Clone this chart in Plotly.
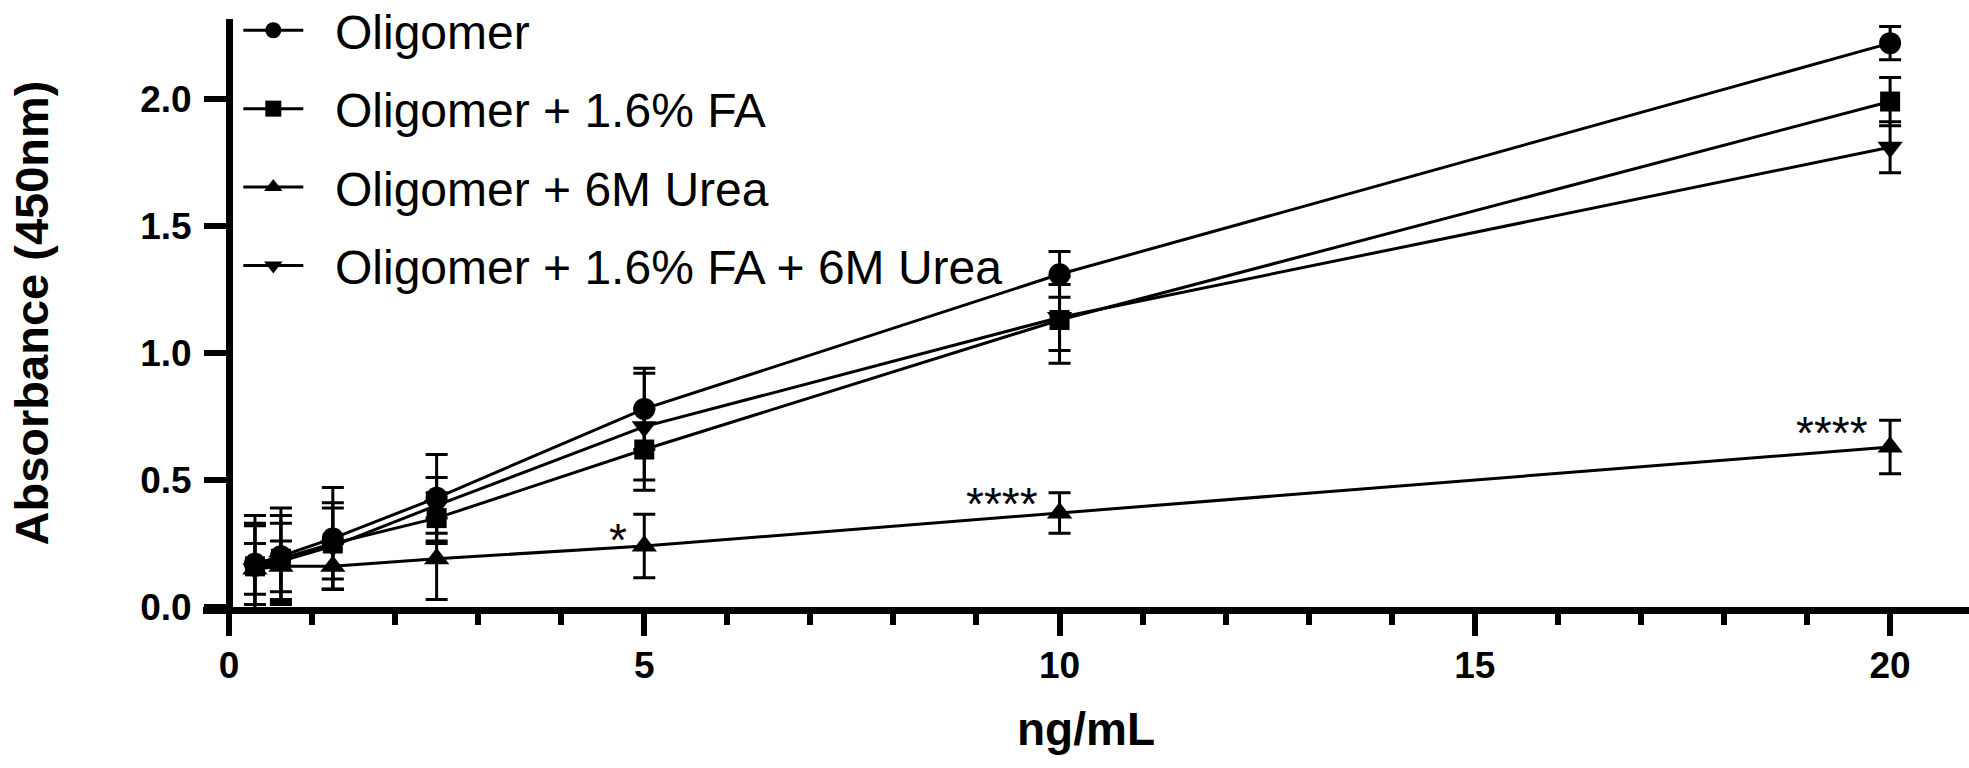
import plotly.graph_objects as go

# ---- data ----
conc = [0.3125, 0.625, 1.25, 2.5, 5, 10, 20]

olig = [0.17, 0.20, 0.27, 0.43, 0.78, 1.31, 2.22]
olig_err = [0.16, 0.19, 0.20, 0.17, 0.16, 0.09, 0.065]

olig_fa = [0.16, 0.19, 0.25, 0.35, 0.62, 1.13, 1.99]
olig_fa_err = [0.20, 0.17, 0.14, 0.10, 0.16, 0.17, 0.095]

olig_urea = [0.15, 0.16, 0.16, 0.19, 0.24, 0.37, 0.63]
olig_urea_err = [0.10, 0.10, 0.09, 0.16, 0.125, 0.08, 0.105]

olig_fa_urea = [0.15, 0.18, 0.24, 0.40, 0.71, 1.14, 1.81]
olig_fa_urea_err = [0.17, 0.15, 0.17, 0.11, 0.21, 0.13, 0.10]

names = ["Oligomer", "Oligomer + 1.6% FA", "Oligomer + 6M Urea",
         "Oligomer + 1.6% FA + 6M Urea"]
symbols = ["circle", "square", "triangle-up", "triangle-down"]
marker_sizes = [22, 20, 22, 22]

sig_x = [5, 10, 20]
sig_y = [0.30, 0.44, 0.72]
sig_text = ["*", "****", "****"]

x_ticks = [0, 5, 10, 15, 20]
y_ticks = [0.0, 0.5, 1.0, 1.5, 2.0]

# ---- figure ----
FONT = "Liberation Sans, Arial, Helvetica, sans-serif"
LEGEND_PAD = "\u00a0\u00a0"   # gap between legend symbol and label

fig = go.Figure()
for name, ys, es, sym, ms in zip(
        names,
        [olig, olig_fa, olig_urea, olig_fa_urea],
        [olig_err, olig_fa_err, olig_urea_err, olig_fa_urea_err],
        symbols, marker_sizes):
    fig.add_trace(go.Scatter(
        x=conc, y=ys, name=LEGEND_PAD + name, mode="lines+markers",
        legendgroup=name,
        line=dict(color="black", width=3),
        marker=dict(symbol=sym, size=ms, color="black"),
        error_y=dict(type="data", array=es, visible=True, color="black",
                     thickness=3, width=11),
    ))

for sx, sy, st in zip(sig_x, sig_y, sig_text):
    fig.add_annotation(x=sx, y=sy, text=st, showarrow=False,
                       xanchor="right", yanchor="middle",
                       xshift=-15 if len(st) == 1 else -20, yshift=-9,
                       font=dict(family=FONT, size=46, color="black"))

fig.update_layout(
    width=1969, height=768,
    margin=dict(l=203, r=0, t=19, b=161, autoexpand=False),
    paper_bgcolor="white", plot_bgcolor="white",
    font=dict(family=FONT, color="black"),
    showlegend=True,
    legend=dict(x=0.02, y=1.045, xanchor="left", yanchor="top",
                font=dict(family=FONT, size=48, color="black"),
                tracegroupgap=13, traceorder="grouped",
                bgcolor="rgba(0,0,0,0)", itemwidth=60),
    xaxis=dict(
        range=[-0.313, 20.95], showgrid=False, zeroline=False,
        showline=True, linewidth=7, linecolor="black",
        ticks="outside", ticklen=22, tickwidth=6, tickcolor="black",
        tickvals=x_ticks, ticktext=[str(v) for v in x_ticks],
        tickfont=dict(family=FONT, size=37, weight="bold"),
        ticklabelstandoff=-2,
        minor=dict(dtick=1, tick0=0, ticks="outside", ticklen=11, tickwidth=6,
                   tickcolor="black", showgrid=False),
        title=dict(text="ng/mL", font=dict(family=FONT, size=46, weight="bold"),
                   standoff=30),
    ),
    yaxis=dict(
        range=[0, 2.315], anchor="free", position=0.01472,
        showgrid=False, zeroline=False,
        showline=True, linewidth=7, linecolor="black",
        ticks="outside", ticklen=22, tickwidth=6, tickcolor="black",
        tickvals=y_ticks, ticktext=["%.1f" % v for v in y_ticks],
        tickfont=dict(family=FONT, size=37, weight="bold"),
        ticklabelstandoff=5,
        title=dict(text="Absorbance (450nm)",
                   font=dict(family=FONT, size=47, weight="bold"), standoff=75),
    ),
)

fig.write_html("out.html")
